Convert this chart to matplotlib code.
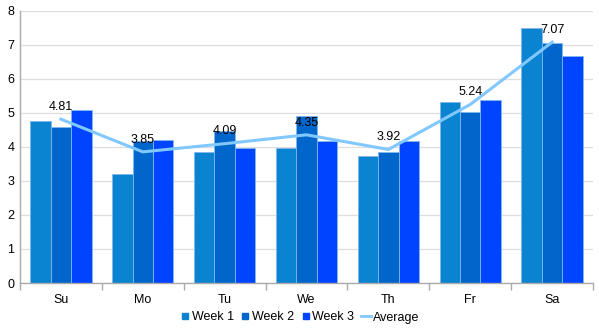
import numpy as np
import matplotlib.pyplot as plt
from matplotlib.lines import Line2D

plt.rcParams['font.family'] = ['Liberation Sans', 'DejaVu Sans']

days = ['Su', 'Mo', 'Tu', 'We', 'Th', 'Fr', 'Sa']
week1 = [4.76, 3.19, 3.85, 3.96, 3.74, 5.31, 7.48]
week2 = [4.57, 4.16, 4.45, 4.90, 3.85, 5.03, 7.05]
week3 = [5.08, 4.20, 3.97, 4.18, 4.18, 5.38, 6.66]
average = [4.81, 3.85, 4.09, 4.35, 3.92, 5.24, 7.07]

colors = ['#0a84d0', '#0066cc', '#0044ff']
line_color = '#80c8ff'

fig = plt.figure(figsize=(5.99, 3.29), dpi=100)
ax = fig.add_axes([20 / 599, 46 / 329, 573 / 599, 272.5 / 329])

x = np.arange(len(days))
w = 0.25
for i, (vals, c) in enumerate(zip([week1, week2, week3], colors)):
    ax.bar(x + (i - 1) * w, vals, w, color=c, edgecolor='#7fb8ee', linewidth=0.6, zorder=2)

ax.plot(x, average, color=line_color, linewidth=2.2, zorder=3)
for xi, v in zip(x, average):
    ax.annotate(f'{v:.2f}', (xi, v), xytext=(0, 4.5), textcoords='offset points',
                ha='center', va='bottom', fontsize=9, color='black', zorder=4)

ax.set_xlim(-0.5, len(days) - 0.5)
ax.set_ylim(0, 8)
ax.set_yticks(range(0, 9))
ax.yaxis.grid(True, color='#dddddd', linewidth=0.9, zorder=0)
ax.set_axisbelow(True)

ax.set_xticks(x)
ax.set_xticklabels(days)
ax.set_xticks(np.arange(-0.5, len(days)), minor=True)
ax.tick_params(axis='x', which='major', length=0, pad=8, labelsize=9)
ax.tick_params(axis='x', which='minor', length=5, color='#aaaaaa', width=1)
ax.tick_params(axis='y', length=0, pad=4, labelsize=9)

for s in ['top', 'right']:
    ax.spines[s].set_visible(False)
for s in ['left', 'bottom']:
    ax.spines[s].set_color('#aaaaaa')
    ax.spines[s].set_linewidth(1)

handles = [Line2D([], [], marker='s', linestyle='none', color=c, markersize=4.5) for c in colors]
handles.append(Line2D([], [], color=line_color, linewidth=2))
fig.legend(handles, ['Week 1', 'Week 2', 'Week 3', 'Average'], loc='center',
           bbox_to_anchor=(0.5, 11.5 / 329), ncol=4, frameon=False, fontsize=9,
           handlelength=0.8, handletextpad=0.15, columnspacing=0.5, borderpad=0)

fig.savefig('out.png', dpi=100)
